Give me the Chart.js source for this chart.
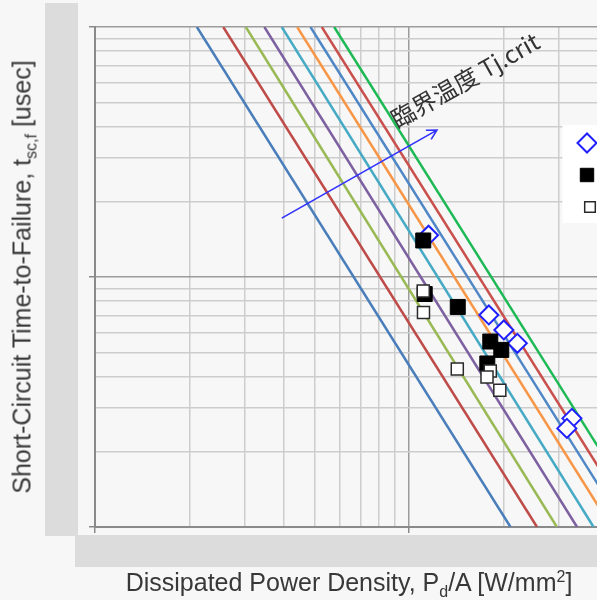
<!DOCTYPE html>
<html>
<head>
<meta charset="utf-8">
<script src="https://cdn.jsdelivr.net/npm/chart.js@4.4.0/dist/chart.umd.min.js"></script>
<style>
  html, body { margin: 0; padding: 0; background: #f7f7f7; overflow: hidden; }
  #wrap { position: relative; width: 597px; height: 600px; overflow: hidden; }
  #myChart { position: absolute; left: 0; top: 0; }
  .axis-title {
    position: absolute;
    font-family: "Liberation Sans", Arial, sans-serif;
    font-size: 25px;
    line-height: 25px;
    color: #383838;
    white-space: nowrap;
  }
  .axis-title sub, .axis-title sup { font-size: 16px; line-height: 0; }
  #x-title { left: 349px; top: 570px; transform: translateX(-50%); }
  #y-title { left: 22px; top: 277px; transform: translate(-50%, -50%) rotate(-90deg); }
</style>
</head>
<body>
<div id="wrap">
  <canvas id="myChart" width="609" height="600"></canvas>
  <div id="x-title" class="axis-title">Dissipated Power Density, P<sub>d</sub>/A [W/mm<sup>2</sup>]</div>
  <div id="y-title" class="axis-title">Short-Circuit Time-to-Failure, t<sub>sc,f</sub> [usec]</div>
</div>
<script>
// axes (log-log), tick labels are blanked out in the original
const xTicks = [10, 20, 30, 40, 50, 60, 70, 80, 90, 100, 200, 300]
const yTicks = [1, 2, 3, 4, 5, 6, 7, 8, 9, 10, 20, 30, 40, 50, 60, 70, 80, 90, 100]
const xMin = 10, xMax = 397
const yMin = 1, yMax = 100

// critical temperature lines: power density at t = 100 usec and at t = 1 usec
const isoTop = [21.1, 25.6, 30.2, 34.6, 39.3, 44.0, 48.5, 52.7, 57.7]
const isoBottom = [210, 255, 295, 342, 386, 440, 485, 527, 577]
const isoColors = ['#4a7ebb', '#be4b48', '#98b954', '#7d60a0', '#46aac5', '#f79646', '#4f86c6', '#c9504c', '#1db954']

// measured points
const diamondX = [115.2, 179.2, 200, 220.8, 329.3, 317.4]
const diamondY = [14.7, 7.05, 6.14, 5.43, 2.72, 2.48]
const filledX = [110.8, 112.0, 142.7, 181.1, 196.3, 177.2]
const filledY = [14.0, 8.55, 7.59, 5.52, 5.11, 4.51]
const openX = [110.8, 111.0, 142.2, 181.1, 176.8, 194.2]
const openY = [8.79, 7.21, 4.29, 4.21, 3.98, 3.52]

// annotation arrow (data coords)
const arrowFrom = { x: 39.3, y: 17.2 }
const arrowTo = { x: 122.5, y: 38.7 }
const labelAt = { x: 91.6, y: 39.1 }
const labelText = '臨界温度 Tj.crit'

const pts = (xs, ys) => xs.map((x, i) => ({ x, y: ys[i] }))

const openStyle = { pointStyle: 'rect', radius: 8.5, rotation: 0, borderWidth: 1.5, bg: '#ffffff', border: '#2a2a2a' }
const filledStyle = { pointStyle: 'rect', radius: 10.6, rotation: 0, borderWidth: 1, bg: '#000000', border: '#000000' }
const diamondStyle = { pointStyle: 'rectRot', radius: 9.5, rotation: 0, borderWidth: 2, bg: '#ffffff', border: '#2020ff' }

const markerSet = (label, data, s) => ({
    label,
    data,
    pointStyle: s.pointStyle,
    pointRadius: s.radius,
    pointHoverRadius: s.radius,
    pointBorderWidth: s.borderWidth,
    pointBackgroundColor: s.bg,
    pointBorderColor: s.border,
    showLine: false
})

const lineSets = isoTop.map((top, i) => ({
    label: 'Tj ' + (i + 1),
    data: [{ x: top, y: yMax }, { x: isoBottom[i], y: yMin }],
    showLine: true,
    borderColor: isoColors[i],
    borderWidth: 2.5,
    pointRadius: 0,
    pointHoverRadius: 0
}))

const isMajor = v => Math.abs(Math.log10(v) - Math.round(Math.log10(v))) < 1e-9

const decor = {
    id: 'decor',
    beforeDraw(chart) {
        const { ctx, chartArea: a } = chart
        ctx.save()
        ctx.fillStyle = '#dcdcdc'
        ctx.fillRect(a.left - 50, 3, 33, a.bottom + 6)
        ctx.fillRect(a.left - 20, a.bottom + 8, chart.width, 32)
        ctx.restore()
    },
    afterDatasetsDraw(chart) {
        const { ctx } = chart
        const xs = chart.scales.x, ys = chart.scales.y
        const x0 = xs.getPixelForValue(arrowFrom.x), y0 = ys.getPixelForValue(arrowFrom.y)
        const x1 = xs.getPixelForValue(arrowTo.x), y1 = ys.getPixelForValue(arrowTo.y)
        const ang = Math.atan2(y1 - y0, x1 - x0)
        ctx.save()
        ctx.strokeStyle = '#3030ff'
        ctx.lineWidth = 1.6
        ctx.beginPath()
        ctx.moveTo(x0, y0)
        ctx.lineTo(x1, y1)
        const head = 11
        ctx.moveTo(x1 - head * Math.cos(ang - 0.5), y1 - head * Math.sin(ang - 0.5))
        ctx.lineTo(x1, y1)
        ctx.lineTo(x1 - head * Math.cos(ang + 0.5), y1 - head * Math.sin(ang + 0.5))
        ctx.stroke()

        ctx.translate(xs.getPixelForValue(labelAt.x), ys.getPixelForValue(labelAt.y))
        ctx.rotate(ang)
        ctx.fillStyle = '#333333'
        ctx.font = '24px "Noto Sans CJK JP", "Liberation Sans", sans-serif'
        ctx.textBaseline = 'alphabetic'
        ctx.fillText(labelText, 0, 0)
        ctx.restore()
    },
    afterDraw(chart) {
        // legend box, cut off by the right edge like in the original
        const { ctx, chartArea: a } = chart
        ctx.save()
        ctx.fillStyle = '#ffffff'
        ctx.fillRect(a.right - 35, 125, 60, 98)
        const rows = [[diamondStyle, 587, 143], [filledStyle, 587, 175], [openStyle, 590, 207]]
        rows.forEach(([s, x, y]) => {
            ctx.fillStyle = s.bg
            ctx.strokeStyle = s.border
            ctx.lineWidth = s.borderWidth
            const r = s === filledStyle ? 9.5 : s === openStyle ? 7.5 : s.radius
            Chart.helpers.drawPoint(ctx, { pointStyle: s.pointStyle, radius: r, rotation: 0, borderWidth: s.borderWidth }, x, y)
        })
        ctx.restore()
    }
}

const ctx = document.getElementById('myChart').getContext('2d')
const myChart = new Chart(ctx, {
    type: 'scatter',
    data: {
        datasets: [
            markerSet('open', pts(openX, openY), openStyle),
            markerSet('filled', pts(filledX, filledY), filledStyle),
            markerSet('diamond', pts(diamondX, diamondY), diamondStyle),
            ...lineSets
        ]
    },
    options: {
        responsive: false,
        animation: false,
        layout: { padding: { left: 89, top: 27, right: 0, bottom: 67 } },
        plugins: { legend: { display: false }, tooltip: { enabled: false } },
        scales: {
            x: {
                type: 'logarithmic',
                min: xMin,
                max: xMax,
                afterBuildTicks: s => { s.ticks = xTicks.map(v => ({ value: v, major: isMajor(v) })) },
                ticks: { display: false },
                grid: {
                    color: c => isMajor(c.tick.value) ? '#9c9c9c' : '#cdcdcd',
                    lineWidth: 1.5,
                    tickLength: 6,
                    tickColor: c => isMajor(c.tick.value) ? '#8a8a8a' : 'rgba(0,0,0,0)'
                },
                border: { color: '#8a8a8a', width: 2 }
            },
            y: {
                type: 'logarithmic',
                min: yMin,
                max: yMax,
                afterBuildTicks: s => { s.ticks = yTicks.map(v => ({ value: v, major: isMajor(v) })) },
                ticks: { display: false },
                grid: {
                    color: c => isMajor(c.tick.value) ? '#9c9c9c' : '#cdcdcd',
                    lineWidth: 1.5,
                    tickLength: 6,
                    tickColor: c => isMajor(c.tick.value) ? '#8a8a8a' : 'rgba(0,0,0,0)'
                },
                border: { color: '#8a8a8a', width: 2 }
            }
        }
    },
    plugins: [decor]
})
</script>
</body>
</html>
